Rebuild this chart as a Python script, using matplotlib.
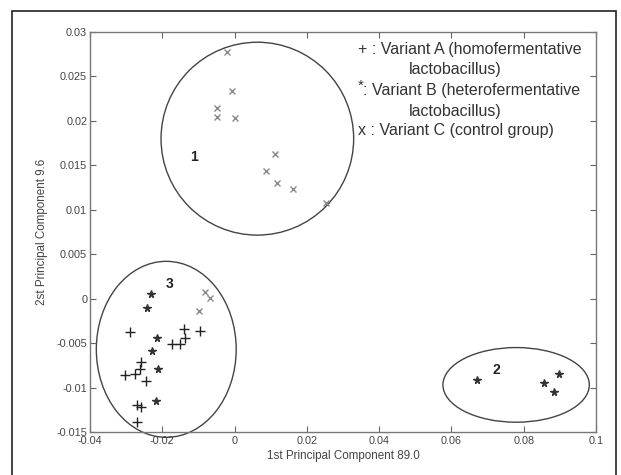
from matplotlib import pyplot as plt
from matplotlib.patches import Ellipse, Rectangle
import numpy as np

plt.rcParams.update({
    'font.family': ['Liberation Sans', 'DejaVu Sans'],
    'font.size': 7,
    'figure.dpi': 100,
})

# Variant A (homofermentative) - '+'
a_x = [-0.0290, -0.0141, -0.0136, -0.0174, -0.0152, -0.0259, -0.0262,
       -0.0275, -0.0302, -0.0244, -0.0271, -0.0259, -0.0269, -0.0095]
a_y = [-0.0037, -0.0034, -0.0044, -0.0051, -0.0051, -0.0071, -0.0079,
       -0.0085, -0.0086, -0.0093, -0.0120, -0.0122, -0.0139, -0.0036]

# Variant B (heterofermentative) - '*'
b_x = [-0.0231, -0.0242, -0.0215, -0.0229, -0.0213, -0.0218,
       0.0670, 0.0855, 0.0897, 0.0884]
b_y = [0.0005, -0.0011, -0.0044, -0.0059, -0.0079, -0.0115,
       -0.0091, -0.0095, -0.0085, -0.0105]

# Variant C (control group) - 'x'
c_x = [-0.0022, -0.0007, -0.0048, -0.0048, 0.0002, 0.0111, 0.0087,
       0.0118, 0.0162, 0.0252, -0.0081, -0.0069, -0.0098]
c_y = [0.0278, 0.0234, 0.0215, 0.0204, 0.0203, 0.0163, 0.0144,
       0.0130, 0.0123, 0.0108, 0.0008, 0.0001, -0.0014]

# cluster ellipses: center x, center y, width, height, label, label pos
clusters = [
    (0.0063, 0.0180, 0.0533, 0.0217, '1', (-0.0113, 0.0159)),
    (0.0779, -0.0097, 0.0405, 0.0084, '2', (0.0725, -0.0080)),
    (-0.0189, -0.0057, 0.0387, 0.0198, '3', (-0.0179, 0.0016)),
]

fig = plt.figure(figsize=(6.21, 4.75))
ax = fig.add_axes([90 / 621, 1 - 432 / 475, 506 / 621, 400 / 475])

# outer frame around the figure
fig.patches.append(Rectangle((12 / 621, -0.05), 604 / 621, 1.05 - 11 / 475,
                             transform=fig.transFigure, fill=False,
                             edgecolor='#222222', linewidth=1.2))

ax.plot(a_x, a_y, '+', color='#222222', markersize=7, markeredgewidth=1.0)
ax.plot(b_x, b_y, '*', color='#333333', markersize=5.5)
ax.plot(c_x, c_y, 'x', color='#8a8a8a', markersize=4, markeredgewidth=1.0)

for cx, cy, w, h, lab, (lx, ly) in clusters:
    ax.add_patch(Ellipse((cx, cy), w, h, fill=False, edgecolor='#444444',
                         linewidth=1.0, clip_on=False))
    ax.text(lx, ly, lab, fontsize=10, fontweight='bold', color='#222222',
            ha='center', va='center')

# legend written as text, matlab style
leg_kw = dict(fontsize=11.5, color='#333333', va='center')
ax.text(0.0342, 0.0280, '+ : Variant A (homofermentative', **leg_kw)
ax.text(0.0482, 0.0258, 'lactobacillus)', **leg_kw)
ax.text(0.0342, 0.0240, '*', fontsize=11, color='#333333', va='center')
ax.text(0.0356, 0.0234, ': Variant B (heterofermentative', **leg_kw)
ax.text(0.0482, 0.0211, 'lactobacillus)', **leg_kw)
ax.text(0.0342, 0.0189, 'x : Variant C (control group)', **leg_kw)

ax.set_xlim(-0.04, 0.1)
ax.set_ylim(-0.015, 0.03)
ax.set_xticks(np.arange(-0.04, 0.1001, 0.02))
ax.set_xticklabels(['-0.04', '-0.02', '0', '0.02', '0.04', '0.06', '0.08', '0.1'])
ax.set_yticks(np.arange(-0.015, 0.0301, 0.005))
ax.set_yticklabels(['-0.015', '-0.01', '-0.005', '0', '0.005', '0.01',
                    '0.015', '0.02', '0.025', '0.03'])
ax.tick_params(direction='in', top=True, right=True, length=4,
               color='#666666', labelcolor='#444444', labelsize=7.8, pad=2)
ax.tick_params(axis='x', pad=3)
for s in ax.spines.values():
    s.set_color('#777777')
    s.set_linewidth(1.0)

ax.set_xlabel('1st Principal Component 89.0', fontsize=8.4, color='#444444', labelpad=3)
ax.set_ylabel('2st Principal Component 9.6', fontsize=8.4, color='#444444', labelpad=6)

plt.savefig('out.png', dpi=100)
plt.close()
